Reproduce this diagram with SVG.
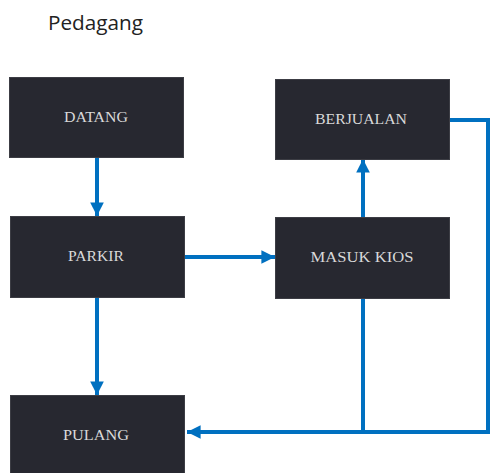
<svg xmlns="http://www.w3.org/2000/svg" width="490" height="473" viewBox="0 0 490 473">
<defs>
<marker id="ah" viewBox="0 0 10 10" refX="10" refY="5" markerWidth="3.4" markerHeight="3.4" markerUnits="strokeWidth" orient="auto">
<path d="M0,0 L10,5 L0,10 Z" fill="#0070C0"/>
</marker>
<style>
.box{fill:#272830;stroke:#3c3d44;stroke-width:1}
.lbl{font-family:"Liberation Serif","DejaVu Serif",serif;font-size:14px;fill:#d9d9d9;text-anchor:middle}
.ln{fill:none;stroke:#0070C0;stroke-width:4}
</style>
</defs>
<rect width="490" height="473" fill="#ffffff"/>
<text x="48" y="30" font-family="'Open Sans','Liberation Sans',sans-serif" font-size="20" fill="#222222" textLength="95" lengthAdjust="spacingAndGlyphs">Pedagang</text>
<g id="connectors">
<line class="ln" x1="97" y1="157" x2="97" y2="216" marker-end="url(#ah)"/>
<line class="ln" x1="184" y1="257" x2="275" y2="257" marker-end="url(#ah)"/>
<line class="ln" x1="363" y1="217" x2="363" y2="159" marker-end="url(#ah)"/>
<line class="ln" x1="97" y1="297" x2="97" y2="395" marker-end="url(#ah)"/>
<polyline class="ln" points="363,298 363,432"/>
<polyline class="ln" points="449,120 488,120 488,432 187,432" marker-end="url(#ah)"/>
</g>
<g id="datang"><rect class="box" x="9.5" y="77.5" width="174" height="80"/><text class="lbl" x="96" y="122" textLength="64" lengthAdjust="spacingAndGlyphs">DATANG</text></g>
<g id="berjualan"><rect class="box" x="275.5" y="79.5" width="174" height="80"/><text class="lbl" x="361" y="124" textLength="92" lengthAdjust="spacingAndGlyphs">BERJUALAN</text></g>
<g id="parkir"><rect class="box" x="10.5" y="216.5" width="174" height="81"/><text class="lbl" x="96" y="261" textLength="56" lengthAdjust="spacingAndGlyphs">PARKIR</text></g>
<g id="masuk-kios"><rect class="box" x="275.5" y="217.5" width="174" height="81"/><text class="lbl" x="362" y="262" textLength="103" lengthAdjust="spacingAndGlyphs">MASUK KIOS</text></g>
<g id="pulang"><rect class="box" x="10.5" y="395.5" width="174" height="80"/><text class="lbl" x="96" y="440" textLength="66" lengthAdjust="spacingAndGlyphs">PULANG</text></g>
</svg>
